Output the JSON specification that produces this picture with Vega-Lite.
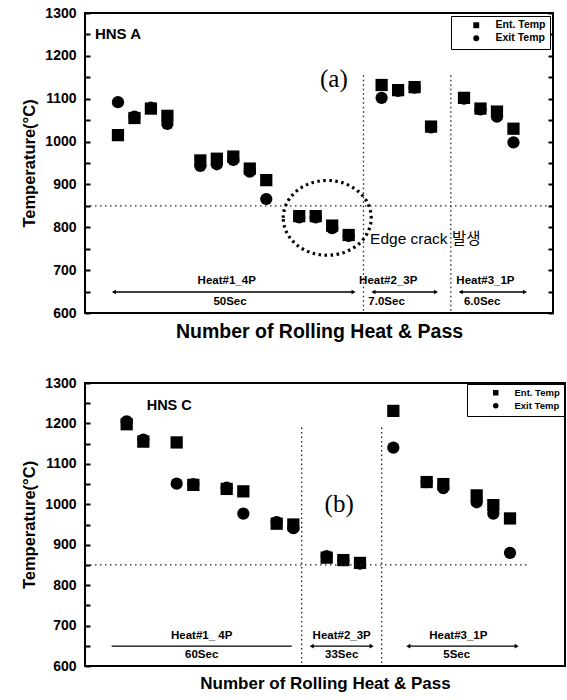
{
  "$schema": "https://vega.github.io/schema/vega-lite/v6.json",
  "padding": {"left": 20, "top": 5, "right": 0, "bottom": 0},
  "background": "white",
  "config": {
    "font": "Liberation Sans",
    "view": {"stroke": "black", "strokeWidth": 2},
    "axis": {"grid": false, "domain": false, "labelFont": "Liberation Sans", "labelFontWeight": "bold", "labelFontSize": 14, "labelColor": "black", "titleFont": "Liberation Sans", "titleFontWeight": "bold", "titleColor": "black", "tickColor": "black", "tickWidth": 2}
  },
  "spacing": 33,
  "resolve": {"scale": {"shape": "independent"}, "legend": {"shape": "independent"}},
  "datasets": {
    "pointsA": [
      {"pass": 1, "series": "Ent. Temp", "temp": 1015}, {"pass": 1, "series": "Exit Temp", "temp": 1092},
      {"pass": 2, "series": "Ent. Temp", "temp": 1055}, {"pass": 2, "series": "Exit Temp", "temp": 1058},
      {"pass": 3, "series": "Ent. Temp", "temp": 1077}, {"pass": 3, "series": "Exit Temp", "temp": 1079},
      {"pass": 4, "series": "Ent. Temp", "temp": 1060}, {"pass": 4, "series": "Exit Temp", "temp": 1041},
      {"pass": 6, "series": "Ent. Temp", "temp": 956}, {"pass": 6, "series": "Exit Temp", "temp": 943},
      {"pass": 7, "series": "Ent. Temp", "temp": 960}, {"pass": 7, "series": "Exit Temp", "temp": 947},
      {"pass": 8, "series": "Ent. Temp", "temp": 965}, {"pass": 8, "series": "Exit Temp", "temp": 957},
      {"pass": 9, "series": "Ent. Temp", "temp": 937}, {"pass": 9, "series": "Exit Temp", "temp": 930},
      {"pass": 10, "series": "Ent. Temp", "temp": 910}, {"pass": 10, "series": "Exit Temp", "temp": 866},
      {"pass": 12, "series": "Ent. Temp", "temp": 826}, {"pass": 12, "series": "Exit Temp", "temp": 823},
      {"pass": 13, "series": "Ent. Temp", "temp": 826}, {"pass": 13, "series": "Exit Temp", "temp": 823},
      {"pass": 14, "series": "Ent. Temp", "temp": 804}, {"pass": 14, "series": "Exit Temp", "temp": 798},
      {"pass": 15, "series": "Ent. Temp", "temp": 782}, {"pass": 15, "series": "Exit Temp", "temp": 780},
      {"pass": 17, "series": "Ent. Temp", "temp": 1132}, {"pass": 17, "series": "Exit Temp", "temp": 1102},
      {"pass": 18, "series": "Ent. Temp", "temp": 1120}, {"pass": 18, "series": "Exit Temp", "temp": 1118},
      {"pass": 19, "series": "Ent. Temp", "temp": 1127}, {"pass": 19, "series": "Exit Temp", "temp": 1126},
      {"pass": 20, "series": "Ent. Temp", "temp": 1035}, {"pass": 20, "series": "Exit Temp", "temp": 1033},
      {"pass": 22, "series": "Ent. Temp", "temp": 1102}, {"pass": 22, "series": "Exit Temp", "temp": 1100},
      {"pass": 23, "series": "Ent. Temp", "temp": 1077}, {"pass": 23, "series": "Exit Temp", "temp": 1075},
      {"pass": 24, "series": "Ent. Temp", "temp": 1070}, {"pass": 24, "series": "Exit Temp", "temp": 1058},
      {"pass": 25, "series": "Ent. Temp", "temp": 1030}, {"pass": 25, "series": "Exit Temp", "temp": 998}
    ],
    "pointsB": [
      {"pass": 1, "series": "Ent. Temp", "temp": 1198}, {"pass": 1, "series": "Exit Temp", "temp": 1205},
      {"pass": 2, "series": "Ent. Temp", "temp": 1155}, {"pass": 2, "series": "Exit Temp", "temp": 1160},
      {"pass": 4, "series": "Ent. Temp", "temp": 1153}, {"pass": 4, "series": "Exit Temp", "temp": 1051},
      {"pass": 5, "series": "Ent. Temp", "temp": 1048}, {"pass": 5, "series": "Exit Temp", "temp": 1050},
      {"pass": 7, "series": "Ent. Temp", "temp": 1038}, {"pass": 7, "series": "Exit Temp", "temp": 1041},
      {"pass": 8, "series": "Ent. Temp", "temp": 1032}, {"pass": 8, "series": "Exit Temp", "temp": 977},
      {"pass": 10, "series": "Ent. Temp", "temp": 952}, {"pass": 10, "series": "Exit Temp", "temp": 956},
      {"pass": 11, "series": "Ent. Temp", "temp": 950}, {"pass": 11, "series": "Exit Temp", "temp": 941},
      {"pass": 13, "series": "Ent. Temp", "temp": 868}, {"pass": 13, "series": "Exit Temp", "temp": 872},
      {"pass": 14, "series": "Ent. Temp", "temp": 862}, {"pass": 14, "series": "Exit Temp", "temp": 862},
      {"pass": 15, "series": "Ent. Temp", "temp": 855}, {"pass": 15, "series": "Exit Temp", "temp": 853},
      {"pass": 17, "series": "Ent. Temp", "temp": 1231}, {"pass": 17, "series": "Exit Temp", "temp": 1140},
      {"pass": 19, "series": "Ent. Temp", "temp": 1055}, {"pass": 19, "series": "Exit Temp", "temp": 1055},
      {"pass": 20, "series": "Ent. Temp", "temp": 1050}, {"pass": 20, "series": "Exit Temp", "temp": 1040},
      {"pass": 22, "series": "Ent. Temp", "temp": 1022}, {"pass": 22, "series": "Exit Temp", "temp": 1005},
      {"pass": 23, "series": "Ent. Temp", "temp": 998}, {"pass": 23, "series": "Exit Temp", "temp": 977},
      {"pass": 24, "series": "Ent. Temp", "temp": 965}, {"pass": 24, "series": "Exit Temp", "temp": 880}
    ],
    "vlinesA": [{"x": 15.9, "y1": 1155, "y2": 600}, {"x": 21.2, "y1": 1155, "y2": 600}],
    "vlinesB": [{"x": 11.5, "y1": 1190, "y2": 600}, {"x": 16.3, "y1": 1190, "y2": 600}],
    "hlineA": [{"y": 850, "x1": -1, "x2": 27.4}],
    "hlineB": [{"y": 850, "x1": -1.5, "x2": 25.1}],
    "arrowsA": [
      {"x1": 0.75, "x2": 15.3, "y": 649, "heads": true},
      {"x1": 16.5, "x2": 20.3, "y": 649, "heads": true},
      {"x1": 21.8, "x2": 25.7, "y": 649, "heads": true}
    ],
    "arrowsB": [
      {"x1": 0.1, "x2": 10.9, "y": 649, "heads": false},
      {"x1": 12.1, "x2": 15.7, "y": 649, "heads": true},
      {"x1": 17.9, "x2": 24.4, "y": 649, "heads": true}
    ],
    "smallA": [
      {"x": 7.6, "y": 675, "label": "Heat#1_4P"}, {"x": 7.8, "y": 626, "label": "50Sec"},
      {"x": 17.4, "y": 675, "label": "Heat#2_3P"}, {"x": 17.3, "y": 626, "label": "7.0Sec"},
      {"x": 23.3, "y": 675, "label": "Heat#3_1P"}, {"x": 23.1, "y": 626, "label": "6.0Sec"}
    ],
    "smallB": [
      {"x": 5.5, "y": 674, "label": "Heat#1_ 4P"}, {"x": 5.5, "y": 628, "label": "60Sec"},
      {"x": 13.9, "y": 674, "label": "Heat#2_3P"}, {"x": 13.9, "y": 628, "label": "33Sec"},
      {"x": 20.9, "y": 674, "label": "Heat#3_1P"}, {"x": 20.8, "y": 628, "label": "5Sec"}
    ],
    "nameA": [{"x": -0.4, "y": 1252, "label": "HNS A"}],
    "nameB": [{"x": 2.2, "y": 1243, "label": "HNS C"}],
    "tagA": [{"x": 14.1, "y": 1146, "label": "(a)"}],
    "tagB": [{"x": 13.75, "y": 1000, "label": "(b)"}],
    "noteA": [{"x": 16.3, "y": 773, "label": "Edge crack 발생"}],
    "ringA": [{"x": 13.7, "y": 822}]
  },
  "vconcat": [
    {
      "width": 468,
      "height": 300,
      "resolve": {"axis": {"x": "independent", "y": "independent"}},
      "layer": [
        {
          "data": {"name": "pointsA"},
          "mark": {"type": "point", "filled": true, "color": "black", "opacity": 1, "size": 150},
          "encoding": {
            "x": {"field": "pass", "type": "quantitative", "scale": {"domain": [-1, 27.4], "nice": false, "zero": false}, "axis": {"title": "Number of Rolling  Heat & Pass", "labels": false, "ticks": false, "titleFontSize": 19.5, "titlePadding": 9}},
            "y": {"field": "temp", "type": "quantitative", "scale": {"domain": [600, 1300], "nice": false, "zero": false}, "axis": {"orient": "left", "title": "Temperature(°C)", "titleFontSize": 16.5, "titlePadding": 7, "labelPadding": 14, "tickSize": -5, "format": "d", "values": [600, 650, 700, 750, 800, 850, 900, 950, 1000, 1050, 1100, 1150, 1200, 1250, 1300], "labelExpr": "datum.value % 100 == 0 ? datum.label : ''"}},
            "shape": {"field": "series", "type": "nominal", "scale": {"domain": ["Ent. Temp", "Exit Temp"], "range": ["square", "circle"]}, "legend": {"orient": "top-right", "title": null, "offset": 3, "padding": 4, "strokeColor": "black", "fillColor": "white", "symbolSize": 35, "symbolOffset": 16, "labelOffset": 14, "labelFontSize": 10.5, "labelFontWeight": "bold", "labelColor": "black", "rowPadding": 0, "symbolFillColor": "black"}}
          }
        },
        {
          "data": {"name": "hlineA"},
          "mark": {"type": "rule", "strokeDash": [1.5, 3.5], "strokeWidth": 1.3, "color": "#222"},
          "encoding": {
            "x": {"field": "x1", "type": "quantitative", "axis": null},
            "x2": {"field": "x2"},
            "y": {"field": "y", "type": "quantitative", "axis": null}
          }
        },
        {
          "data": {"name": "vlinesA"},
          "mark": {"type": "rule", "strokeDash": [1.5, 3], "strokeWidth": 1.3, "color": "#222"},
          "encoding": {
            "x": {"field": "x", "type": "quantitative", "axis": null},
            "y": {"field": "y1", "type": "quantitative", "axis": {"orient": "right", "labels": false, "title": null, "tickSize": -5, "values": [600, 650, 700, 750, 800, 850, 900, 950, 1000, 1050, 1100, 1150, 1200, 1250, 1300]}},
            "y2": {"field": "y2"}
          }
        },
        {
          "data": {"name": "ringA"},
          "mark": {"type": "point", "shape": "M -1 0 A 1 0.85 0 1 1 1 0 A 1 0.85 0 1 1 -1 0 Z", "size": 7744, "filled": false, "stroke": "black", "strokeWidth": 3.2, "strokeDash": [2.5, 3.5], "opacity": 1},
          "encoding": {
            "x": {"field": "x", "type": "quantitative", "axis": null},
            "y": {"field": "y", "type": "quantitative", "axis": null}
          }
        },
        {
          "data": {"name": "arrowsA"},
          "mark": {"type": "rule", "strokeWidth": 1.3, "color": "black"},
          "encoding": {
            "x": {"field": "x1", "type": "quantitative", "axis": null},
            "x2": {"field": "x2"},
            "y": {"field": "y", "type": "quantitative", "axis": null}
          }
        },
        {
          "data": {"name": "arrowsA"},
          "transform": [{"filter": "datum.heads"}],
          "mark": {"type": "point", "shape": "triangle-left", "filled": true, "color": "black", "opacity": 1, "size": 22},
          "encoding": {
            "x": {"field": "x1", "type": "quantitative", "axis": null},
            "y": {"field": "y", "type": "quantitative", "axis": null}
          }
        },
        {
          "data": {"name": "arrowsA"},
          "transform": [{"filter": "datum.heads"}],
          "mark": {"type": "point", "shape": "triangle-right", "filled": true, "color": "black", "opacity": 1, "size": 22},
          "encoding": {
            "x": {"field": "x2", "type": "quantitative", "axis": null},
            "y": {"field": "y", "type": "quantitative", "axis": null}
          }
        },
        {
          "data": {"name": "smallA"},
          "mark": {"type": "text", "font": "Liberation Sans", "fontWeight": "bold", "fontSize": 11.5, "color": "black", "align": "center", "baseline": "middle"},
          "encoding": {
            "x": {"field": "x", "type": "quantitative", "axis": null},
            "y": {"field": "y", "type": "quantitative", "axis": null},
            "text": {"field": "label"}
          }
        },
        {
          "data": {"name": "nameA"},
          "mark": {"type": "text", "font": "Liberation Sans", "fontWeight": "bold", "fontSize": 15, "color": "black", "align": "left", "baseline": "middle"},
          "encoding": {
            "x": {"field": "x", "type": "quantitative", "axis": null},
            "y": {"field": "y", "type": "quantitative", "axis": null},
            "text": {"field": "label"}
          }
        },
        {
          "data": {"name": "tagA"},
          "mark": {"type": "text", "font": "Liberation Serif", "fontSize": 25, "color": "black", "align": "center", "baseline": "middle"},
          "encoding": {
            "x": {"field": "x", "type": "quantitative", "axis": null},
            "y": {"field": "y", "type": "quantitative", "axis": null},
            "text": {"field": "label"}
          }
        },
        {
          "data": {"name": "noteA"},
          "mark": {"type": "text", "font": "Liberation Sans, Noto Sans CJK KR", "fontSize": 15.5, "color": "black", "align": "left", "baseline": "middle"},
          "encoding": {
            "x": {"field": "x", "type": "quantitative", "axis": null},
            "y": {"field": "y", "type": "quantitative", "axis": null},
            "text": {"field": "label"}
          }
        }
      ]
    },
    {
      "width": 480,
      "height": 283,
      "resolve": {"axis": {"x": "independent", "y": "independent"}},
      "layer": [
        {
          "data": {"name": "pointsB"},
          "mark": {"type": "point", "filled": true, "color": "black", "opacity": 1, "size": 150},
          "encoding": {
            "x": {"field": "pass", "type": "quantitative", "scale": {"domain": [-1.5, 27.3], "nice": false, "zero": false}, "axis": {"title": "Number of Rolling  Heat & Pass", "labels": false, "ticks": false, "titleFontSize": 17, "titlePadding": 9}},
            "y": {"field": "temp", "type": "quantitative", "scale": {"domain": [600, 1300], "nice": false, "zero": false}, "axis": {"orient": "left", "title": "Temperature(°C)", "titleFontSize": 16.5, "titlePadding": 7, "labelPadding": 14, "tickSize": -5, "format": "d", "values": [600, 650, 700, 750, 800, 850, 900, 950, 1000, 1050, 1100, 1150, 1200, 1250, 1300], "labelExpr": "datum.value % 100 == 0 ? datum.label : ''"}},
            "shape": {"field": "series", "type": "nominal", "scale": {"domain": ["Ent. Temp", "Exit Temp"], "range": ["square", "circle"]}, "legend": {"orient": "top-right", "title": null, "offset": 1, "padding": 4, "strokeColor": "black", "fillColor": "white", "symbolSize": 30, "symbolOffset": 20, "labelOffset": 14, "labelFontSize": 9.5, "labelFontWeight": "bold", "labelColor": "black", "rowPadding": 1, "symbolFillColor": "black"}}
          }
        },
        {
          "data": {"name": "hlineB"},
          "mark": {"type": "rule", "strokeDash": [1.5, 3.5], "strokeWidth": 1.3, "color": "#222"},
          "encoding": {
            "x": {"field": "x1", "type": "quantitative", "axis": null},
            "x2": {"field": "x2"},
            "y": {"field": "y", "type": "quantitative", "axis": null}
          }
        },
        {
          "data": {"name": "vlinesB"},
          "mark": {"type": "rule", "strokeDash": [1.5, 3], "strokeWidth": 1.3, "color": "#222"},
          "encoding": {
            "x": {"field": "x", "type": "quantitative", "axis": null},
            "y": {"field": "y1", "type": "quantitative", "axis": null},
            "y2": {"field": "y2"}
          }
        },
        {
          "data": {"name": "arrowsB"},
          "mark": {"type": "rule", "strokeWidth": 1.3, "color": "black"},
          "encoding": {
            "x": {"field": "x1", "type": "quantitative", "axis": null},
            "x2": {"field": "x2"},
            "y": {"field": "y", "type": "quantitative", "axis": null}
          }
        },
        {
          "data": {"name": "arrowsB"},
          "transform": [{"filter": "datum.heads"}],
          "mark": {"type": "point", "shape": "triangle-left", "filled": true, "color": "black", "opacity": 1, "size": 22},
          "encoding": {
            "x": {"field": "x1", "type": "quantitative", "axis": null},
            "y": {"field": "y", "type": "quantitative", "axis": null}
          }
        },
        {
          "data": {"name": "arrowsB"},
          "transform": [{"filter": "datum.heads"}],
          "mark": {"type": "point", "shape": "triangle-right", "filled": true, "color": "black", "opacity": 1, "size": 22},
          "encoding": {
            "x": {"field": "x2", "type": "quantitative", "axis": null},
            "y": {"field": "y", "type": "quantitative", "axis": null}
          }
        },
        {
          "data": {"name": "smallB"},
          "mark": {"type": "text", "font": "Liberation Sans", "fontWeight": "bold", "fontSize": 11.5, "color": "black", "align": "center", "baseline": "middle"},
          "encoding": {
            "x": {"field": "x", "type": "quantitative", "axis": null},
            "y": {"field": "y", "type": "quantitative", "axis": null},
            "text": {"field": "label"}
          }
        },
        {
          "data": {"name": "nameB"},
          "mark": {"type": "text", "font": "Liberation Sans", "fontWeight": "bold", "fontSize": 14.5, "color": "black", "align": "left", "baseline": "middle"},
          "encoding": {
            "x": {"field": "x", "type": "quantitative", "axis": null},
            "y": {"field": "y", "type": "quantitative", "axis": null},
            "text": {"field": "label"}
          }
        },
        {
          "data": {"name": "tagB"},
          "mark": {"type": "text", "font": "Liberation Serif", "fontSize": 25, "color": "black", "align": "center", "baseline": "middle"},
          "encoding": {
            "x": {"field": "x", "type": "quantitative", "axis": null},
            "y": {"field": "y", "type": "quantitative", "axis": null},
            "text": {"field": "label"}
          }
        }
      ]
    }
  ]
}
